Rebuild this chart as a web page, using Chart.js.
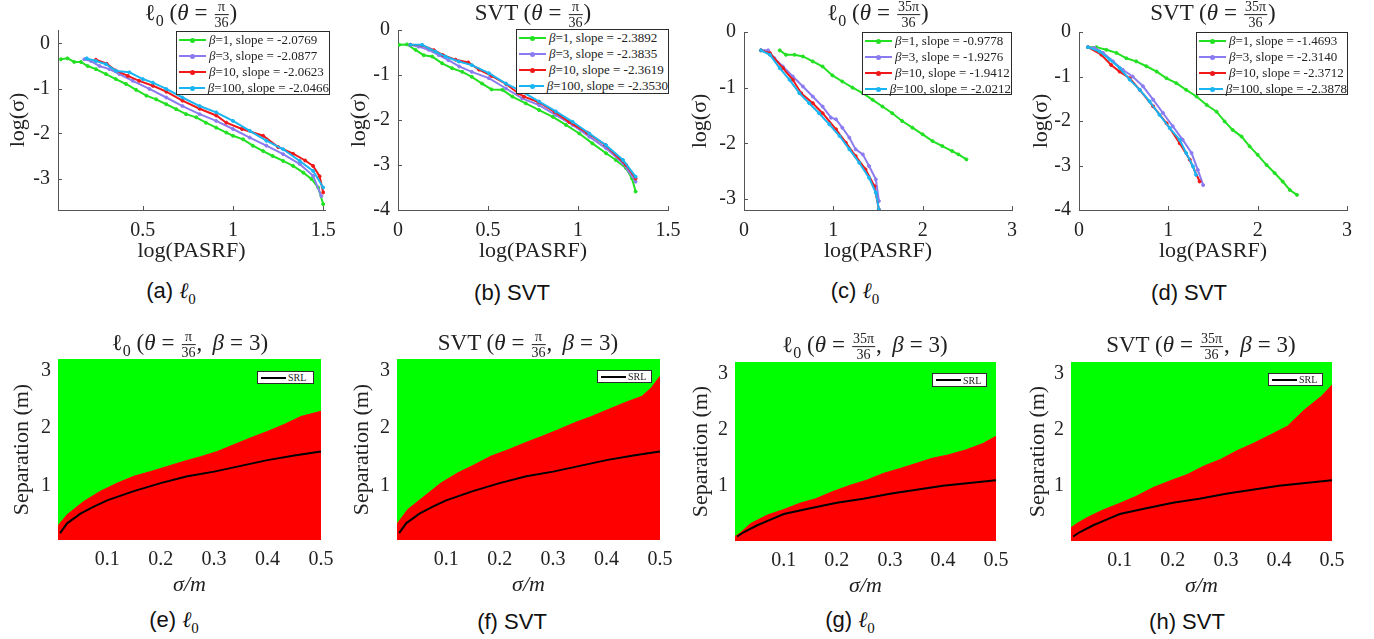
<!DOCTYPE html>
<html>
<head>
<meta charset="utf-8">
<script src="https://cdn.jsdelivr.net/npm/chart.js@4.4.1/dist/chart.umd.min.js"></script>
<style>
body{margin:0;background:#fff;width:1374px;height:639px;position:relative;overflow:hidden;font-family:"Liberation Serif","Times New Roman",serif;color:#222}
canvas{position:absolute}
.ttl{position:absolute;transform:translate(-50%,-50%);font-size:23px;white-space:nowrap;z-index:3}
.ttl .eq{margin:0 6px}
.ttl sub{font-size:16px}
.frac{display:inline-block;vertical-align:middle;text-align:center;font-size:14px;line-height:1.1;margin:0 1px}
.frac span{display:block}
.frac span:first-child{border-bottom:1px solid #222;padding:0 1px}
.cap{position:absolute;transform:translate(-50%,-50%);font-family:"Liberation Sans",Arial,sans-serif;font-size:22px;white-space:nowrap;color:#111}
.cap .m{font-family:"Liberation Serif",serif;font-style:italic}
.cap sub{font-family:"Liberation Serif",serif;font-size:15px}
.leg{position:absolute;z-index:2;background:#fff;border:1px solid #2b2b2b;box-sizing:border-box;display:flex;flex-direction:column;justify-content:space-around;font-size:13px}
.row{display:flex;align-items:center;white-space:nowrap}
.smp{position:relative;display:inline-block;width:27px;height:2px;margin:0 3px 0 2px}
.dot{position:absolute;left:11px;top:-1.5px;width:5px;height:5px;border-radius:50%}
.leg.srl{font-size:10px}
.leg.srl .smp{width:25px;background:#000;margin:0 2px 0 3px}
</style>
</head>
<body>

<div class="ttl" style="left:191px;top:15px">ℓ<sub>0</sub> (<i>θ</i><span class="eq">=</span><span class="frac"><span>π</span><span>36</span></span>)</div>
<div class="ttl" style="left:533px;top:15px">SVT (<i>θ</i><span class="eq">=</span><span class="frac"><span>π</span><span>36</span></span>)</div>
<div class="ttl" style="left:878px;top:15px">ℓ<sub>0</sub> (<i>θ</i><span class="eq">=</span><span class="frac"><span>35π</span><span>36</span></span>)</div>
<div class="ttl" style="left:1213px;top:15px">SVT (<i>θ</i><span class="eq">=</span><span class="frac"><span>35π</span><span>36</span></span>)</div>
<div class="ttl" style="left:190px;top:345px">ℓ<sub>0</sub> (<i>θ</i><span class="eq">=</span><span class="frac"><span>π</span><span>36</span></span>,&thinsp; <i>β</i><span class="eq">=</span>3)</div>
<div class="ttl" style="left:528px;top:345px">SVT (<i>θ</i><span class="eq">=</span><span class="frac"><span>π</span><span>36</span></span>,&thinsp; <i>β</i><span class="eq">=</span>3)</div>
<div class="ttl" style="left:865px;top:347px">ℓ<sub>0</sub> (<i>θ</i><span class="eq">=</span><span class="frac"><span>35π</span><span>36</span></span>,&thinsp; <i>β</i><span class="eq">=</span>3)</div>
<div class="ttl" style="left:1201px;top:347px">SVT (<i>θ</i><span class="eq">=</span><span class="frac"><span>35π</span><span>36</span></span>,&thinsp; <i>β</i><span class="eq">=</span>3)</div>

<div class="cap" style="left:171px;top:293px">(a) <span class="m">ℓ</span><sub>0</sub></div>
<div class="cap" style="left:512px;top:293px">(b) SVT</div>
<div class="cap" style="left:855px;top:293px">(c) <span class="m">ℓ</span><sub>0</sub></div>
<div class="cap" style="left:1189px;top:293px">(d) SVT</div>
<div class="cap" style="left:174px;top:622px">(e) <span class="m">ℓ</span><sub>0</sub></div>
<div class="cap" style="left:512px;top:622px">(f) SVT</div>
<div class="cap" style="left:850px;top:622px">(g) <span class="m">ℓ</span><sub>0</sub></div>
<div class="cap" style="left:1187px;top:622px">(h) SVT</div>

<script>
// ---- data: log(sigma) vs log(PASRF), one pair of arrays per beta ----
const betas = [1, 3, 10, 100];

// (a) l0, theta = pi/36
const a1x = [0.046, 0.083, 0.12, 0.157, 0.194, 0.24, 0.296, 0.35, 0.407, 0.463, 0.52, 0.574, 0.63, 0.685, 0.74, 0.796, 0.85, 0.907, 0.963, 1.0, 1.056, 1.11, 1.167, 1.22, 1.278, 1.333, 1.39, 1.435, 1.472, 1.5];
const a1y = [-0.35, -0.33, -0.41, -0.41, -0.5, -0.57, -0.68, -0.79, -0.9, -1.03, -1.16, -1.24, -1.35, -1.46, -1.57, -1.64, -1.76, -1.87, -1.98, -2.05, -2.13, -2.27, -2.39, -2.5, -2.61, -2.72, -2.87, -3.01, -3.2, -3.57];
const a3x = [0.176, 0.213, 0.26, 0.315, 0.37, 0.444, 0.537, 0.63, 0.72, 0.815, 0.907, 1.0, 1.093, 1.185, 1.278, 1.37, 1.444, 1.49];
const a3y = [-0.35, -0.39, -0.5, -0.57, -0.68, -0.83, -1.01, -1.2, -1.39, -1.57, -1.72, -1.9, -2.09, -2.27, -2.46, -2.68, -2.94, -3.39];
const a10x = [0.24, 0.3, 0.35, 0.417, 0.48, 0.556, 0.63, 0.72, 0.815, 0.907, 0.963, 1.05, 1.167, 1.25, 1.333, 1.4, 1.444, 1.48, 1.5];
const a10y = [-0.36, -0.45, -0.6, -0.72, -0.83, -0.94, -1.07, -1.27, -1.45, -1.6, -1.76, -1.9, -2.05, -2.3, -2.45, -2.6, -2.72, -2.95, -3.31];
const a100x = [0.189, 0.24, 0.296, 0.352, 0.426, 0.5, 0.556, 0.63, 0.72, 0.815, 0.907, 1.0, 1.093, 1.185, 1.278, 1.37, 1.444, 1.5];
const a100y = [-0.33, -0.39, -0.46, -0.61, -0.64, -0.79, -0.87, -1.01, -1.2, -1.39, -1.53, -1.72, -1.94, -2.16, -2.35, -2.61, -2.83, -3.2];

// (b) SVT, theta = pi/36
const b1x = [0.007, 0.05, 0.097, 0.143, 0.19, 0.245, 0.3, 0.357, 0.41, 0.467, 0.52, 0.58, 0.635, 0.71, 0.784, 0.86, 0.933, 1.007, 1.08, 1.156, 1.21, 1.267, 1.3, 1.32];
const b1y = [-0.33, -0.32, -0.44, -0.56, -0.59, -0.74, -0.85, -0.93, -1.04, -1.19, -1.32, -1.33, -1.48, -1.63, -1.78, -1.93, -2.11, -2.3, -2.52, -2.74, -2.89, -3.07, -3.3, -3.59];
const b3x = [0.069, 0.115, 0.17, 0.227, 0.28, 0.34, 0.41, 0.505, 0.6, 0.69, 0.784, 0.877, 0.97, 1.063, 1.156, 1.25, 1.32];
const b3y = [-0.33, -0.37, -0.44, -0.56, -0.67, -0.81, -0.93, -1.07, -1.3, -1.52, -1.67, -1.89, -2.11, -2.37, -2.63, -2.96, -3.37];
const b10x = [0.069, 0.134, 0.2, 0.25, 0.32, 0.39, 0.45, 0.52, 0.6, 0.67, 0.7, 0.78, 0.87, 0.95, 1.05, 1.15, 1.267, 1.32];
const b10y = [-0.33, -0.34, -0.45, -0.56, -0.66, -0.72, -0.88, -1.02, -1.2, -1.41, -1.48, -1.6, -1.82, -2.04, -2.28, -2.55, -3.0, -3.3];
const b100x = [0.069, 0.134, 0.208, 0.264, 0.338, 0.41, 0.505, 0.6, 0.69, 0.784, 0.877, 0.97, 1.063, 1.156, 1.25, 1.32];
const b100y = [-0.33, -0.33, -0.48, -0.59, -0.7, -0.78, -0.96, -1.19, -1.37, -1.59, -1.81, -2.04, -2.3, -2.56, -2.89, -3.26];

// (c) l0, theta = 35pi/36
const c1x = [0.4, 0.47, 0.565, 0.66, 0.77, 0.88, 0.99, 1.1, 1.215, 1.33, 1.44, 1.55, 1.66, 1.77, 1.885, 2.0, 2.11, 2.22, 2.33, 2.4, 2.49];
const c1y = [-0.33, -0.41, -0.41, -0.44, -0.53, -0.62, -0.78, -0.89, -1.0, -1.1, -1.22, -1.34, -1.46, -1.6, -1.72, -1.84, -1.96, -2.05, -2.14, -2.2, -2.29];
const c3x = [0.19, 0.27, 0.34, 0.435, 0.547, 0.66, 0.77, 0.88, 0.974, 1.03, 1.1, 1.18, 1.25, 1.33, 1.4, 1.476, 1.51];
const c3y = [-0.33, -0.33, -0.47, -0.62, -0.8, -0.98, -1.16, -1.34, -1.54, -1.57, -1.72, -1.9, -2.11, -2.2, -2.41, -2.65, -3.04];
const c10x = [0.19, 0.29, 0.435, 0.547, 0.64, 0.77, 0.88, 1.03, 1.14, 1.25, 1.36, 1.46, 1.51];
const c10y = [-0.33, -0.38, -0.65, -0.86, -1.1, -1.28, -1.46, -1.75, -1.99, -2.23, -2.47, -2.77, -3.19];
const c100x = [0.19, 0.29, 0.4, 0.51, 0.62, 0.73, 0.84, 0.955, 1.07, 1.18, 1.29, 1.4, 1.476, 1.51];
const c100y = [-0.33, -0.41, -0.65, -0.86, -1.1, -1.28, -1.46, -1.66, -1.87, -2.11, -2.35, -2.62, -2.89, -3.19];

// (d) SVT, theta = 35pi/36
const d1x = [0.1, 0.195, 0.306, 0.42, 0.53, 0.64, 0.755, 0.87, 0.98, 1.09, 1.2, 1.315, 1.43, 1.54, 1.63, 1.72, 1.82, 1.91, 2.0, 2.1, 2.19, 2.28, 2.36, 2.44];
const d1y = [-0.34, -0.34, -0.4, -0.47, -0.59, -0.66, -0.77, -0.89, -1.04, -1.15, -1.3, -1.45, -1.64, -1.79, -2.01, -2.2, -2.35, -2.57, -2.76, -2.99, -3.17, -3.36, -3.55, -3.66];
const d3x = [0.1, 0.175, 0.27, 0.38, 0.49, 0.6, 0.716, 0.83, 0.94, 1.05, 1.16, 1.26, 1.33, 1.39];
const d3y = [-0.34, -0.36, -0.47, -0.66, -0.85, -1.0, -1.22, -1.52, -1.82, -2.12, -2.42, -2.72, -3.1, -3.44];
const d10x = [0.1, 0.25, 0.36, 0.455, 0.567, 0.68, 0.83, 0.98, 1.127, 1.24, 1.35];
const d10y = [-0.34, -0.51, -0.74, -0.89, -1.04, -1.3, -1.67, -2.05, -2.5, -2.87, -3.36];
const d100x = [0.1, 0.23, 0.343, 0.455, 0.567, 0.68, 0.79, 0.9, 1.015, 1.127, 1.2, 1.276, 1.31];
const d100y = [-0.34, -0.44, -0.62, -0.81, -1.07, -1.3, -1.56, -1.86, -2.16, -2.42, -2.72, -3.02, -3.21];

const slopesA = ['-2.0769', '-2.0877', '-2.0623', '-2.0466'];
const slopesB = ['-2.3892', '-2.3835', '-2.3619', '-2.3530'];
const slopesC = ['-0.9778', '-1.9276', '-1.9412', '-2.0212'];
const slopesD = ['-1.4693', '-2.3140', '-2.3712', '-2.3878'];

// ---- data: separation maps (boundary between success/failure) and SRL ----
const eEdgeX = [0.008, 0.025, 0.056, 0.0875, 0.119, 0.15, 0.181, 0.2125, 0.244, 0.275, 0.306, 0.3375, 0.369, 0.4, 0.431, 0.4625, 0.5];
const eEdgeY = [0.3, 0.49, 0.72, 0.9, 1.04, 1.16, 1.24, 1.33, 1.42, 1.5, 1.59, 1.71, 1.83, 1.94, 2.06, 2.2, 2.29];
const fEdgeX = [0.008, 0.028, 0.059, 0.09, 0.122, 0.153, 0.184, 0.216, 0.247, 0.278, 0.31, 0.34, 0.372, 0.403, 0.434, 0.466, 0.484, 0.5];
const fEdgeY = [0.33, 0.58, 0.81, 1.04, 1.22, 1.36, 1.51, 1.62, 1.74, 1.85, 1.97, 2.09, 2.2, 2.32, 2.44, 2.55, 2.7, 2.9];
const gEdgeX = [0.008, 0.016, 0.0375, 0.069, 0.1, 0.13, 0.16, 0.19, 0.225, 0.256, 0.2875, 0.32, 0.35, 0.38, 0.41, 0.444, 0.475, 0.5];
const gEdgeY = [0.1, 0.15, 0.33, 0.48, 0.58, 0.69, 0.77, 0.89, 1.01, 1.1, 1.22, 1.31, 1.4, 1.49, 1.55, 1.64, 1.75, 1.88];
const hEdgeX = [0.008, 0.021, 0.037, 0.068, 0.1, 0.13, 0.163, 0.195, 0.227, 0.258, 0.29, 0.32, 0.353, 0.385, 0.416, 0.448, 0.48, 0.5];
const hEdgeY = [0.26, 0.34, 0.43, 0.57, 0.69, 0.81, 0.97, 1.09, 1.2, 1.35, 1.47, 1.62, 1.76, 1.91, 2.06, 2.35, 2.59, 2.79];

const srlNarrowX = [0.012, 0.025, 0.05, 0.075, 0.1, 0.15, 0.2, 0.25, 0.3, 0.35, 0.4, 0.45, 0.5];
const srlNarrowY = [0.17, 0.34, 0.51, 0.63, 0.74, 0.9, 1.04, 1.16, 1.24, 1.34, 1.44, 1.52, 1.59];
const srlWideX = [0.012, 0.025, 0.05, 0.075, 0.1, 0.15, 0.2, 0.25, 0.3, 0.35, 0.4, 0.45, 0.5];
const srlWideY = [0.1, 0.18, 0.3, 0.4, 0.5, 0.6, 0.7, 0.77, 0.86, 0.93, 1.0, 1.05, 1.1];

// ---- tick labels ----
const ticksAX = [0.5, 1, 1.5], ticksAY = [-3, -2, -1, 0];
const ticksBX = [0, 0.5, 1, 1.5], ticksBY = [-4, -3, -2, -1, 0];
const ticksCX = [0, 1, 2, 3], ticksCY = [-3, -2, -1, 0];
const ticksDX = [0, 1, 2, 3], ticksDY = [-4, -3, -2, -1, 0];
const ticksMapX = [0.1, 0.2, 0.3, 0.4, 0.5], ticksMapY = [1, 2, 3];

// ---- layout ----
const AX_W = 58, AX_H = 60, PAD_T = 12, PAD_R = 20;
const lineColors = ['#22e022', '#8a7cf0', '#f01818', '#19b5f2'];
const serif = 'Liberation Serif, DejaVu Serif, serif';
Chart.defaults.font.family = serif;
Chart.defaults.color = '#222';

const topPanels = [
    { rect: [58, 30, 325, 210], xr: [0.03, 1.51], yr: [-3.7, 0.3], xt: ticksAX, yt: ticksAY, ytPad: 5,
      series: [[a1x, a1y], [a3x, a3y], [a10x, a10y], [a100x, a100y]], slopes: slopesA, leg: [176, 31, 154, 64] },
    { rect: [398, 30, 668, 210], xr: [0, 1.5], yr: [-4, 0], xt: ticksBX, yt: ticksBY, ytPad: 6,
      series: [[b1x, b1y], [b3x, b3y], [b10x, b10y], [b100x, b100y]], slopes: slopesB, leg: [516, 29, 153, 65] },
    { rect: [744, 32, 1012, 210], xr: [0, 3], yr: [-3.2, 0], xt: ticksCX, yt: ticksCY, ytPad: 1,
      series: [[c1x, c1y], [c3x, c3y], [c10x, c10y], [c100x, c100y]], slopes: slopesC, leg: [862, 32, 150, 63] },
    { rect: [1079, 32, 1347, 210], xr: [0, 3], yr: [-4, 0], xt: ticksDX, yt: ticksDY, ytPad: 7,
      series: [[d1x, d1y], [d3x, d3y], [d10x, d10y], [d100x, d100y]], slopes: slopesD, leg: [1196, 32, 152, 63] }
];

const mapPanels = [
    { rect: [58, 359, 321, 540], yr: [0.05, 3.2], ytPad: 9, edge: [eEdgeX, eEdgeY], srl: [srlNarrowX, srlNarrowY], leg: [257, 371, 57, 13] },
    { rect: [397, 359, 660, 540], yr: [0.05, 3.2], ytPad: 10, edge: [fEdgeX, fEdgeY], srl: [srlNarrowX, srlNarrowY], leg: [597, 370, 55, 13] },
    { rect: [735, 362, 996, 541], yr: [0.02, 3.2], ytPad: 11, edge: [gEdgeX, gEdgeY], srl: [srlWideX, srlWideY], leg: [932, 373, 55, 14] },
    { rect: [1071, 362, 1332, 541], yr: [0.02, 3.2], ytPad: 12, edge: [hEdgeX, hEdgeY], srl: [srlWideX, srlWideY], leg: [1268, 373, 55, 13] }
];

// MATLAB-style short tick marks pointing into the plot area
const inwardTicks = {
    id: 'inwardTicks',
    afterDraw(chart, args, opts) {
        if (!opts.len) return;
        const { ctx, chartArea: a, scales: { x, y } } = chart;
        ctx.save();
        ctx.strokeStyle = '#555';
        ctx.lineWidth = 1;
        ctx.beginPath();
        x.ticks.forEach(t => {
            const px = Math.round(x.getPixelForValue(t.value)) + 0.5;
            ctx.moveTo(px, a.bottom);
            ctx.lineTo(px, a.bottom - opts.len);
        });
        y.ticks.forEach(t => {
            const py = Math.round(y.getPixelForValue(t.value)) + 0.5;
            ctx.moveTo(a.left, py);
            ctx.lineTo(a.left + opts.len, py);
        });
        ctx.stroke();
        ctx.restore();
    }
};

function makeCanvas(rect) {
    const c = document.createElement('canvas');
    c.width = rect[2] - rect[0] + AX_W + PAD_R;
    c.height = rect[3] - rect[1] + PAD_T + AX_H;
    c.style.left = (rect[0] - AX_W) + 'px';
    c.style.top = (rect[1] - PAD_T) + 'px';
    document.body.appendChild(c);
    return c;
}

function points(xs, ys) {
    return xs.map((v, i) => ({ x: v, y: ys[i] }));
}

// fixed axis sizes so the plot area lands exactly on the measured box
function fitX(s) { s.height = AX_H; s.paddingLeft = 0; s.paddingRight = 0; }
function fitY(s) { s.width = AX_W; s.paddingTop = 0; s.paddingBottom = 0; }

function axis(range, ticks, fit, title, titlePad, border) {
    return {
        type: 'linear',
        min: range[0],
        max: range[1],
        afterBuildTicks: s => { s.ticks = ticks.map(v => ({ value: v })); },
        afterFit: fit,
        grid: { display: false, drawTicks: false },
        border: { display: border, color: '#555', width: 1 },
        ticks: { padding: title.tickPad, color: '#222', autoSkip: false, maxRotation: 0,
                 font: { family: serif, size: 20 }, callback: v => String(v) },
        title: { display: true, text: title.text, color: '#222', padding: titlePad,
                 font: { family: serif, size: 22, style: title.italic ? 'italic' : 'normal' } }
    };
}

function baseOptions(xAxis, yAxis, tickLen) {
    return {
        responsive: false,
        animation: false,
        events: [],
        layout: { padding: { left: 0, top: PAD_T, right: PAD_R, bottom: 0 } },
        plugins: { legend: { display: false }, tooltip: { enabled: false }, inwardTicks: { len: tickLen } },
        scales: { x: xAxis, y: yAxis }
    };
}

function makeLegend(box, rows, cls) {
    const div = document.createElement('div');
    div.className = 'leg' + (cls ? ' ' + cls : '');
    div.style.left = box[0] + 'px';
    div.style.top = box[1] + 'px';
    div.style.width = box[2] + 'px';
    div.style.height = box[3] + 'px';
    rows.forEach(r => {
        const row = document.createElement('div');
        row.className = 'row';
        row.innerHTML = r;
        div.appendChild(row);
    });
    document.body.appendChild(div);
}

function drawAll() {
    // Top row: log-log decay curves
    topPanels.forEach(p => {
        const c = makeCanvas(p.rect);
        const datasets = p.series.map((s, i) => ({
            data: points(s[0], s[1]),
            showLine: true,
            borderColor: lineColors[i],
            backgroundColor: lineColors[i],
            borderWidth: 2,
            pointRadius: 1.5,
            pointBorderWidth: 1,
            order: 3 - i
        }));
        new Chart(c, {
            type: 'scatter',
            data: { datasets },
            plugins: [inwardTicks],
            options: baseOptions(
                axis(p.xr, p.xt, fitX, { text: 'log(PASRF)', tickPad: 9 }, { top: 0, bottom: 6 }, true),
                axis(p.yr, p.yt, fitY, { text: 'log(σ)', tickPad: 8 }, { top: p.ytPad, bottom: 0 }, true),
                4
            )
        });
        makeLegend(p.leg, betas.map((b, i) =>
            `<span class="smp" style="background:${lineColors[i]}"><span class="dot" style="background:${lineColors[i]}"></span></span>` +
            `<span><i>β</i>=${b}, slope = ${p.slopes[i]}</span>`));
    });

    // Bottom row: success (green) / failure (red) maps with SRL curve
    mapPanels.forEach(p => {
        const c = makeCanvas(p.rect);
        const edge = points(p.edge[0], p.edge[1]);
        new Chart(c, {
            type: 'scatter',
            data: {
                datasets: [
                    { label: 'SRL', data: points(p.srl[0], p.srl[1]), showLine: true, borderColor: '#000', borderWidth: 2, pointRadius: 0, order: 0 },
                    { data: edge, showLine: true, borderColor: '#ff0000', backgroundColor: '#ff0000', borderWidth: 1, pointRadius: 0, fill: 'start', order: 1 },
                    { data: edge, showLine: true, borderColor: '#00ff00', backgroundColor: '#00ff00', borderWidth: 1, pointRadius: 0, fill: 'end', order: 2 }
                ]
            },
            options: baseOptions(
                axis([0.008, 0.5], ticksMapX, fitX, { text: 'σ/m', tickPad: 8, italic: true }, { top: 0, bottom: 2 }, false),
                axis(p.yr, ticksMapY, fitY, { text: 'Separation (m)', tickPad: 7 }, { top: p.ytPad, bottom: 0 }, false),
                0
            )
        });
        makeLegend(p.leg, ['<span class="smp"></span><span>SRL</span>'], 'srl');
    });
}

document.fonts.load('18px "Liberation Serif"').then(drawAll, drawAll);
</script>
</body>
</html>
